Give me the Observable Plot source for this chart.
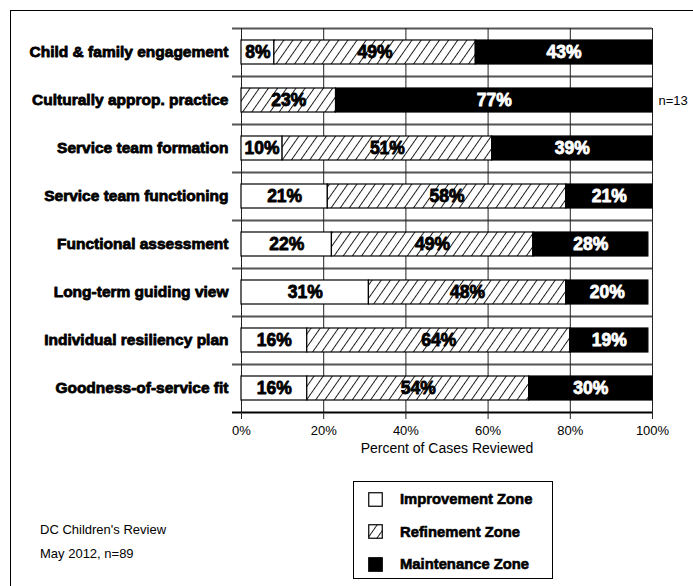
<!DOCTYPE html>
<html>
<head>
<meta charset="utf-8">
<script src="https://cdn.jsdelivr.net/npm/d3@7"></script>
<script src="https://cdn.jsdelivr.net/npm/@observablehq/plot@0.6"></script>
<style>
  html, body { margin: 0; padding: 0; background: white; overflow: hidden; }
  #wrap { position: relative; width: 693px; height: 586px; font-family: "Liberation Sans", Arial, Helvetica, sans-serif; }
  #frame { position: absolute; left: 10px; top: 10px; width: 700px; height: 600px; border: 1.5px solid black; box-sizing: border-box; pointer-events: none; }
  #legend { position: absolute; left: 353px; top: 481px; width: 200px; height: 98px; border: 1.5px solid black; box-sizing: border-box; background: white; }
  .li { position: absolute; left: 14px; height: 16px; display: flex; align-items: center; font-weight: bold; font-size: 14.8px; -webkit-text-stroke: 0.6px black; }
  .li svg { margin-right: 17px; }
  #note { position: absolute; left: 40px; top: 518px; font-size: 13px; line-height: 24px; color: black; }
</style>
</head>
<body>
<div id="wrap">
  <div id="chart"></div>
  <div id="frame"></div>
  <div id="legend"></div>
  <div id="note">DC Children's Review<br>May 2012, n=89</div>
</div>
<script>
// ---- data ----
const categories = [
  "Child & family engagement",
  "Culturally approp. practice",
  "Service team formation",
  "Service team functioning",
  "Functional assessment",
  "Long-term guiding view",
  "Individual resiliency plan",
  "Goodness-of-service fit"
];
const zones = ["Improvement Zone", "Refinement Zone", "Maintenance Zone"];
const improvement = [8, 0, 10, 21, 22, 31, 16, 16];
const refinement  = [49, 23, 51, 58, 49, 48, 64, 54];
const maintenance = [43, 77, 39, 21, 28, 20, 19, 30];
const sideNotes   = ["", "n=13", "", "", "", "", "", ""];
const xTicks = [0, 20, 40, 60, 80, 100];

// ---- table built from the arrays ----
const series = [improvement, refinement, maintenance];
const rows = categories.flatMap((cat, i) => {
  let start = 0;
  return zones.map((zone, k) => {
    const v = series[k][i];
    const r = {cat, i, zone, v, x1: start, x2: start + v};
    start += v;
    return r;
  });
});
const catRows = categories.map((cat, i) => ({cat, i, note: sideNotes[i]}));
const boundaries = d3.range(categories.length + 1);
const tickLen = 2.2; // y-axis tick length, in percent units (~9px)

const chart = Plot.plot({
  width: 693,
  height: 586,
  marginTop: 28,
  marginBottom: 174,
  marginLeft: 241,
  marginRight: 41,
  style: {fontFamily: "'Liberation Sans', Arial, Helvetica, sans-serif", fontSize: "13px", background: "transparent", overflow: "visible"},
  x: {domain: [0, 100]},
  y: {domain: [0, categories.length], reverse: true, axis: null},
  color: {domain: zones, range: ["white", "url(#hatch)", "black"]},
  marks: [
    Plot.ruleY(boundaries.slice(0, -1), {x1: -tickLen, x2: 100, stroke: "#555", strokeWidth: 2}),
    Plot.ruleX(xTicks, {stroke: "#222", strokeWidth: 1}),
    Plot.rect(rows, {x1: "x1", x2: "x2", y1: d => d.i + 0.25, y2: d => d.i + 0.75, fill: "zone", stroke: "black", strokeWidth: 1.2}),
    Plot.ruleY(boundaries.slice(-1), {x1: -tickLen, x2: 100, stroke: "black", strokeWidth: 2}),
    Plot.axisX({ticks: xTicks, tickFormat: d => d + "%", tickSize: 7, tickPadding: 6, fontSize: 13, label: null, stroke: "#222"}),
    Plot.text(["Percent of Cases Reviewed"], {frameAnchor: "bottom", dy: 40, fontSize: 14}),
    Plot.text(rows.filter(d => d.v > 0 && d.zone !== "Maintenance Zone"), {
      x: d => (d.x1 + d.x2) / 2, y: d => d.i + 0.5, text: d => d.v + "%",
      fill: "black", stroke: "black", strokeWidth: 0.8, fontWeight: "bold", fontSize: 17.5
    }),
    Plot.text(rows.filter(d => d.v > 0 && d.zone === "Maintenance Zone"), {
      x: d => (d.x1 + d.x2) / 2, y: d => d.i + 0.5, text: d => d.v + "%",
      fill: "white", stroke: "white", strokeWidth: 0.8, fontWeight: "bold", fontSize: 17.5
    }),
    Plot.text(catRows, {
      y: d => d.i + 0.5, text: "cat", frameAnchor: "left", textAnchor: "end", dx: -13,
      fill: "black", stroke: "black", strokeWidth: 0.8, fontWeight: "bold", fontSize: 15.5
    }),
    Plot.text(catRows.filter(d => d.note), {
      y: d => d.i + 0.5, text: "note", frameAnchor: "right", textAnchor: "start", dx: 6, fontSize: 13
    })
  ]
});

const ns = "http://www.w3.org/2000/svg";
const defs = document.createElementNS(ns, "defs");
defs.innerHTML = `<pattern id="hatch" patternUnits="userSpaceOnUse" width="7.5" height="12" patternTransform="rotate(35)">
  <rect width="7.5" height="12" fill="white"></rect>
  <line x1="0.5" y1="0" x2="0.5" y2="12" stroke="black" stroke-width="0.9"></line>
</pattern>`;
chart.insertBefore(defs, chart.firstChild);
document.getElementById("chart").appendChild(chart);

// legend (HTML) built from zones and the colour scale
const legend = document.getElementById("legend");
const legendFills = ["white", "url(#hatch)", "black"];
zones.forEach((z, k) => {
  const div = document.createElement("div");
  div.className = "li";
  div.style.top = (9 + k * 32.5) + "px";
  div.innerHTML = `<svg width="15" height="15"><rect x="0.75" y="0.75" width="13.5" height="13.5" fill="${legendFills[k]}" stroke="black" stroke-width="1.2"></rect></svg><span>${z}</span>`;
  legend.appendChild(div);
});
</script>
</body>
</html>
